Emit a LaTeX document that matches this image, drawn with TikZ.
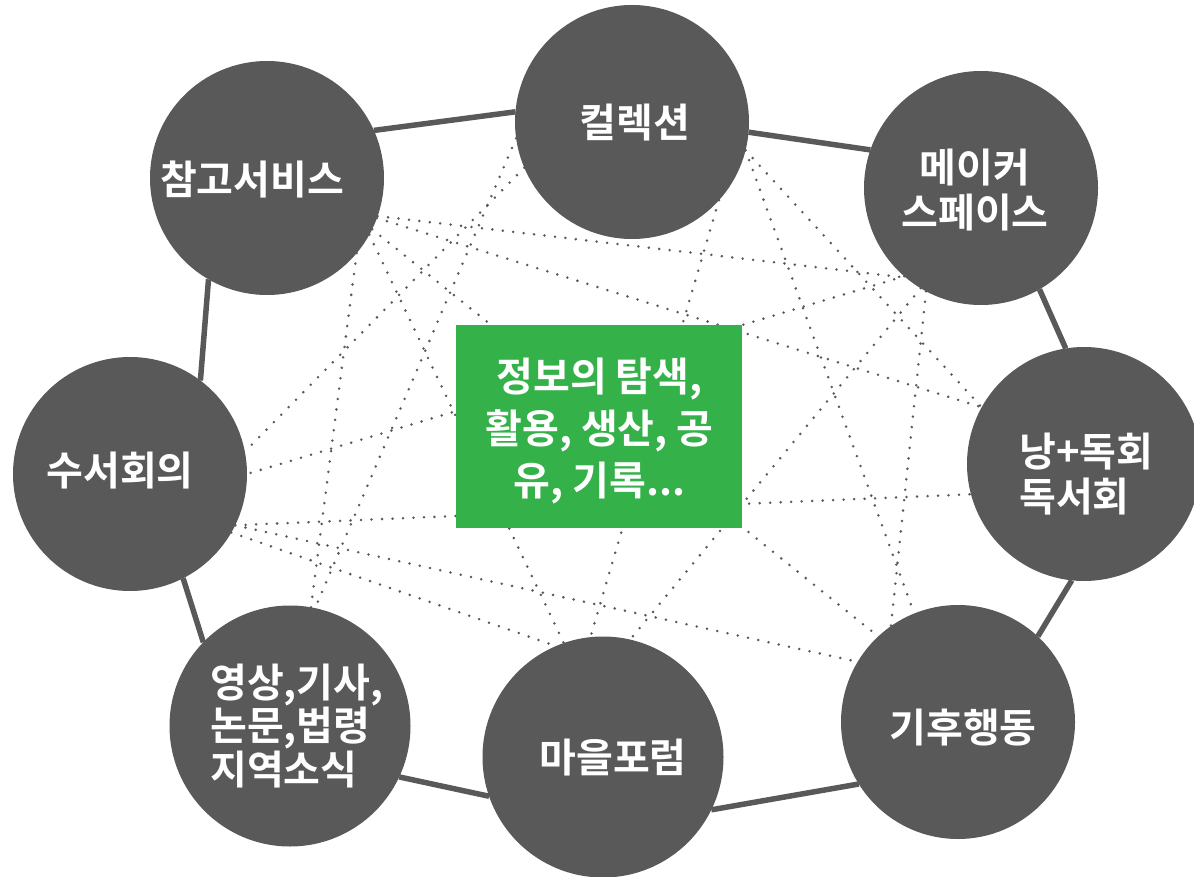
\documentclass[tikz,border=0pt]{standalone}
\usepackage{fontspec}
\newfontfamily\kr{Noto Sans CJK KR}[BoldFont={Noto Sans CJK KR Bold}]
\usetikzlibrary{backgrounds}
\definecolor{dk}{HTML}{595959}
\definecolor{gr}{HTML}{35B14A}
\begin{document}
\begin{tikzpicture}[x=1pt,y=-1pt,
  bub/.style={circle,fill=dk,draw=none,inner sep=0pt,outer sep=0pt,minimum size=234pt},
  bubL/.style={bub,minimum size=241pt},
  lbl/.style={text=white,font=\kr\bfseries\fontsize{40}{45}\selectfont,inner sep=0pt},
  ring/.style={draw=dk,line width=5.5pt},
  dots/.style={draw=dk,line width=2.8pt,line cap=round,dash pattern=on 0pt off 10.5pt}]
\useasboundingbox (0,0) rectangle (1194,877);
% circles
\node[bub]  (A) at (632,122) {};
\node[bub]  (B) at (981,188) {};
\node[bub]  (C) at (1084,464) {};
\node[bub]  (D) at (958,722) {};
\node[bubL] (E) at (603,757) {};
\node[bubL] (F) at (290,726) {};
\node[bub]  (G) at (130,474) {};
\node[bub]  (H) at (267,178) {};
% center box
\node[fill=gr,draw=none,minimum width=286pt,minimum height=203pt,inner sep=0pt] (X) at (599,426.5) {};
\node[lbl,align=center,font=\kr\bfseries\fontsize{40}{52}\selectfont] (tX) at (599.5,430.5) {정보의 탐색,\\활용, 생산, 공\\유, 기록...};
% labels
\node[lbl] (tA) at (635,123) {컬렉션};
\node[lbl] (tH) at (252,180) {참고서비스};
\node[lbl,align=center] (tB) at (975,190) {메이커\\스페이스};
\node[lbl,align=left,anchor=west] (tC) at (1019,474.5) {낭+독회\\독서회};
\node[lbl] (tG) at (120,471) {수서회의};
\node[lbl,align=left,anchor=west,font=\kr\bfseries\fontsize{40}{43.5}\selectfont] (tF) at (210,726) {영상,기사,\\논문,법령\\지역소식};
\node[lbl] (tE) at (613,758) {마을포럼};
\node[lbl] (tD) at (963,728) {기후행동};
\begin{pgfonlayer}{background}
% ring connectors
\draw[ring] (H.24.4) -- (A.175.5);
\draw[ring] (A.-5.4) -- (B.161.9);
\draw[ring] (B.-60) -- (C.99.3);
\draw[ring] (C.-96.9) -- (D.47.4);
\draw[ring] (D.-148.2) -- (E.-26.6);
\draw[ring] (E.-161.7) -- (F.-25.9);
\draw[ring] (F.136.2) -- (G.-63.2);
\draw[ring] (G.53.9) -- (H.-120);
% dotted cross links
\draw[dots] (H.-19.4) -- (B.-130);
\draw[dots] (H.-20.4) -- (C.151.5);
\draw[dots] (H.-26.1) -- (D.133.4);
\draw[dots] (H.-29.4) -- (E.109.9);
\draw[dots] (H.-40.5) -- (F.80.4);
\draw[dots] (A.-157.6) -- (G.11);
\draw[dots] (A.-172.1) -- (F.78);
\draw[dots] (A.-42.9) -- (E.96.2);
\draw[dots] (A.-14.7) -- (D.112.8);
\draw[dots] (A.-14.7) -- (C.151.1);
\draw[dots] (B.-131.6) -- (G.-0.5);
\draw[dots] (B.-121.5) -- (E.77.1);
\draw[dots] (B.-118.7) -- (D.125.8);
\draw[dots] (G.-26.6) -- (C.-165.5);
\draw[dots] (G.-26) -- (D.149.3);
\draw[dots] (G.-30.9) -- (E.113.8);
\end{pgfonlayer}
\end{tikzpicture}
\end{document}
